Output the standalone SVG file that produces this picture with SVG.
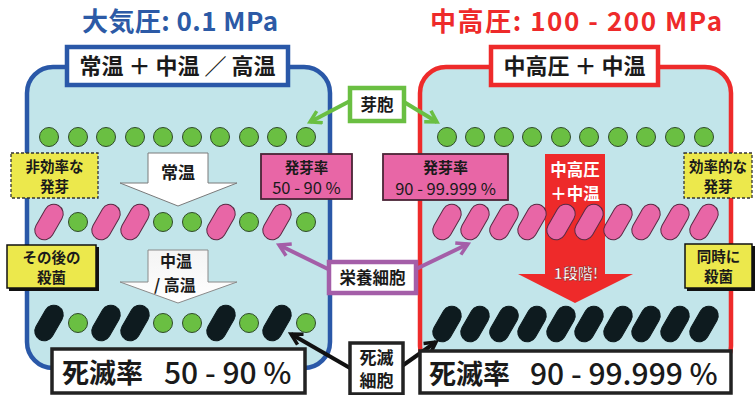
<svg xmlns="http://www.w3.org/2000/svg" width="756" height="395" viewBox="0 0 756 395">
  <defs>
    <style>
      .jp{font-family:"Noto Sans CJK JP","Noto Sans",sans-serif;}
      .b{font-weight:700;}
      .mid{text-anchor:middle;}
      .panel{fill:#c2e5ea;stroke-width:4.5;}
      .tag{fill:#ffffff;stroke-width:4.5;}
      .yel{fill:#ece84c;}
      .pinkbox{fill:#e866a6;stroke:#4a2436;stroke-width:1.8;}
      .res{fill:#ffffff;stroke:#222222;stroke-width:3.5;}
      .conn{fill:none;stroke-width:4;}
    </style>
    <g id="spore"><circle r="9.5" fill="#6abf42" stroke="#2f4a2a" stroke-width="1"/></g>
    <g id="veg"><rect x="-9.5" y="-19" width="19" height="38" rx="9.5" transform="rotate(30)" fill="#e866a6" stroke="#5a2a44" stroke-width="1"/></g>
    <g id="dead"><rect x="-9.5" y="-19" width="19" height="38" rx="9.5" transform="rotate(30)" fill="#0e1b1f" stroke="#0e1b1f" stroke-width="1"/></g>
    <linearGradient id="softWhite" x1="0" y1="0" x2="0" y2="1">
      <stop offset="0" stop-color="#f4f4f4"/>
      <stop offset="1" stop-color="#ffffff"/>
    </linearGradient>
    <marker id="headGreen" viewBox="0 0 16 16" refX="13" refY="8" markerWidth="16" markerHeight="16" markerUnits="userSpaceOnUse" orient="auto">
      <path d="M2,1.5 L13,8 L2,14.5" fill="none" stroke="#6abf42" stroke-width="3.5"/>
    </marker>
    <marker id="headPurple" viewBox="0 0 16 16" refX="13" refY="8" markerWidth="16" markerHeight="16" markerUnits="userSpaceOnUse" orient="auto">
      <path d="M2,1.5 L13,8 L2,14.5" fill="none" stroke="#a45ea8" stroke-width="3.5"/>
    </marker>
    <marker id="headBlack" viewBox="0 0 16 16" refX="13" refY="8" markerWidth="16" markerHeight="16" markerUnits="userSpaceOnUse" orient="auto">
      <path d="M2,2 L13,8 L2,14" fill="none" stroke="#111111" stroke-width="3.5"/>
    </marker>
  </defs>

  <rect width="756" height="395" fill="#ffffff"/>

  <!-- headings -->
  <g id="title-left">
    <text class="jp b mid" x="180" y="31" font-size="26" fill="#2c5aa6" textLength="196" lengthAdjust="spacing">大気圧: 0.1 MPa</text>
  </g>
  <g id="title-right">
    <text class="jp b mid" x="576" y="31" font-size="26" fill="#ee2a2a" textLength="292" lengthAdjust="spacing">中高圧: 100 - 200 MPa</text>
  </g>

  <!-- vessels -->
  <g id="panel-left">
    <rect class="panel" x="27" y="67" width="303" height="301" rx="26" stroke="#2a58a8"/>
  </g>
  <g id="panel-right">
    <rect class="panel" x="420" y="67" width="311" height="305" rx="26" stroke="#ee2b2b"/>
  </g>

  <g id="label-left">
    <rect class="tag" x="67" y="47" width="221" height="38" stroke="#2a58a8"/>
    <text class="jp b mid" x="177.5" y="74" font-size="22" fill="#1a1a1a">常温 ＋ 中温 ／ 高温</text>
  </g>
  <g id="label-right">
    <rect class="tag" x="491" y="47" width="167" height="38" stroke="#ee2b2b"/>
    <text class="jp b mid" x="574.5" y="74" font-size="22" fill="#1a1a1a">中高圧 ＋ 中温</text>
  </g>

  <!-- process arrows -->
  <g id="arrow-ambient">
    <polygon points="148,153 208,153 208,183 237,183 178,206 120,183 148,183" fill="#ffffff" stroke="#7a7a7a" stroke-width="1"/>
    <text class="jp b mid" x="178" y="179" font-size="17" fill="#1a1a1a">常温</text>
  </g>
  <g id="arrow-heat">
    <polygon points="148,250 208,250 208,282 237,282 178,303 120,282 148,282" fill="url(#softWhite)" stroke="#8a8a8a" stroke-width="1"/>
    <text class="jp b" font-size="16" fill="#1a1a1a"><tspan x="160" y="267">中温</tspan><tspan x="154" y="291">/ 高温</tspan></text>
  </g>
  <g id="arrow-pressure">
    <polygon points="545,154 605,154 605,274 633,274 575,303 518,274 545,274" fill="#ee2a2a"/>
    <text class="jp b mid" font-size="16.5" fill="#ffffff"><tspan x="575" y="176">中高圧</tspan><tspan x="575" y="200">＋中温</tspan></text>
    <text class="jp b mid" x="576" y="279" font-size="15" fill="#ffffff" stroke="#8a1010" stroke-width="0.5">1段階!</text>
  </g>

  <!-- spores, top rows -->
  <g id="spores-left">
    <use href="#spore" x="49" y="137"/><use href="#spore" x="78" y="137"/><use href="#spore" x="106" y="137"/><use href="#spore" x="135" y="137"/><use href="#spore" x="163" y="137"/>
    <use href="#spore" x="192" y="137"/><use href="#spore" x="220" y="137"/><use href="#spore" x="249" y="137"/><use href="#spore" x="277" y="137"/><use href="#spore" x="306" y="137"/>
  </g>
  <g id="spores-right">
    <use href="#spore" x="447" y="137"/><use href="#spore" x="475" y="137"/><use href="#spore" x="504" y="137"/><use href="#spore" x="532" y="137"/><use href="#spore" x="561" y="137"/>
    <use href="#spore" x="589" y="137"/><use href="#spore" x="618" y="137"/><use href="#spore" x="646" y="137"/><use href="#spore" x="675" y="137"/><use href="#spore" x="704" y="137"/>
  </g>

  <!-- after germination -->
  <g id="germinated-left">
    <use href="#veg" x="49" y="222"/><use href="#spore" x="78" y="222"/><use href="#veg" x="106" y="222"/><use href="#veg" x="135" y="222"/><use href="#spore" x="163" y="222"/>
    <use href="#spore" x="192" y="222"/><use href="#veg" x="221" y="222"/><use href="#spore" x="249" y="222"/><use href="#veg" x="277" y="222"/><use href="#spore" x="306" y="222"/>
  </g>
  <g id="germinated-right">
    <use href="#veg" x="447" y="222"/><use href="#veg" x="475" y="222"/><use href="#veg" x="504" y="222"/><use href="#veg" x="532" y="222"/><use href="#veg" x="561" y="222"/>
    <use href="#veg" x="589" y="222"/><use href="#veg" x="618" y="222"/><use href="#veg" x="646" y="222"/><use href="#veg" x="675" y="222"/><use href="#veg" x="704" y="222"/>
  </g>

  <!-- after sterilisation -->
  <g id="killed-left">
    <use href="#dead" x="49" y="323"/><use href="#spore" x="78" y="323"/><use href="#dead" x="106" y="323"/><use href="#dead" x="135" y="323"/><use href="#spore" x="163" y="323"/>
    <use href="#spore" x="192" y="323"/><use href="#dead" x="221" y="323"/><use href="#spore" x="249" y="323"/><use href="#dead" x="277" y="323"/><use href="#spore" x="306" y="323"/>
  </g>
  <g id="killed-right">
    <use href="#dead" x="447" y="324"/><use href="#dead" x="475" y="324"/><use href="#dead" x="504" y="324"/><use href="#dead" x="532" y="324"/><use href="#dead" x="561" y="324"/>
    <use href="#dead" x="589" y="324"/><use href="#dead" x="618" y="324"/><use href="#dead" x="646" y="324"/><use href="#dead" x="675" y="324"/><use href="#dead" x="704" y="324"/>
  </g>

  <!-- side notes -->
  <g id="note-inefficient">
    <rect class="yel" x="11" y="153" width="87" height="45" stroke="#333333" stroke-width="1.3" stroke-dasharray="3 2"/>
    <text class="jp b mid" font-size="14.5" fill="#1a1a1a"><tspan x="54.5" y="172">非効率な</tspan><tspan x="54.5" y="192">発芽</tspan></text>
  </g>
  <g id="note-later-kill">
    <rect x="9" y="247" width="90" height="44" fill="#111111"/>
    <rect class="yel" x="7" y="245" width="89" height="43" stroke="#111111" stroke-width="1.5"/>
    <text class="jp b mid" font-size="14.5" fill="#1a1a1a"><tspan x="51.5" y="263">その後の</tspan><tspan x="51.5" y="283">殺菌</tspan></text>
  </g>
  <g id="note-efficient">
    <rect class="yel" x="684" y="153" width="68" height="45" stroke="#333333" stroke-width="1.3" stroke-dasharray="3 2"/>
    <text class="jp b mid" font-size="14.5" fill="#1a1a1a"><tspan x="718" y="172">効率的な</tspan><tspan x="718" y="192">発芽</tspan></text>
  </g>
  <g id="note-same-time">
    <rect x="687" y="246" width="68" height="45" fill="#111111"/>
    <rect class="yel" x="685" y="244" width="67" height="44" stroke="#111111" stroke-width="1.5"/>
    <text class="jp b mid" font-size="14.5" fill="#1a1a1a"><tspan x="718.5" y="262">同時に</tspan><tspan x="718.5" y="282">殺菌</tspan></text>
  </g>

  <g id="rate-left">
    <rect class="pinkbox" x="261" y="154" width="91" height="45"/>
    <text class="jp b mid" x="306.5" y="173" font-size="14.5" fill="#1a1a1a">発芽率</text>
    <text class="jp mid" x="306.5" y="194" font-size="16.5" fill="#1a1a1a">50 - 90 %</text>
  </g>
  <g id="rate-right">
    <rect class="pinkbox" x="383" y="154" width="125" height="46"/>
    <text class="jp b mid" x="445.5" y="173" font-size="15" fill="#1a1a1a">発芽率</text>
    <text class="jp mid" x="445.5" y="195" font-size="16.5" fill="#1a1a1a">90 - 99.999 %</text>
  </g>

  <!-- connectors -->
  <g id="connectors">
    <line class="conn" x1="350" y1="101" x2="310" y2="122" stroke="#6abf42" marker-end="url(#headGreen)"/>
    <line class="conn" x1="404" y1="102" x2="437" y2="122" stroke="#6abf42" marker-end="url(#headGreen)"/>
    <line class="conn" x1="330" y1="270" x2="279" y2="245" stroke="#a45ea8" marker-end="url(#headPurple)"/>
    <line class="conn" x1="414" y1="270" x2="468" y2="244" stroke="#a45ea8" marker-end="url(#headPurple)"/>
    <line class="conn" x1="350" y1="368" x2="291" y2="334" stroke="#111111" stroke-width="3.5" marker-end="url(#headBlack)"/>
    <line class="conn" x1="402" y1="366" x2="436" y2="342" stroke="#111111" stroke-width="3.5" marker-end="url(#headBlack)"/>
  </g>

  <g id="tag-spore">
    <rect class="tag" x="350" y="88" width="54" height="33" stroke="#6abf42"/>
    <text class="jp b mid" x="377" y="111" font-size="16.5" fill="#1a1a1a">芽胞</text>
  </g>
  <g id="tag-vegetative">
    <rect class="tag" x="329" y="262" width="87" height="31" stroke="#a45ea8"/>
    <text class="jp b mid" x="372.5" y="284" font-size="16.5" fill="#1a1a1a">栄養細胞</text>
  </g>
  <g id="tag-dead">
    <rect class="res" x="350" y="343" width="53" height="51"/>
    <text class="jp b mid" font-size="17" fill="#1a1a1a"><tspan x="376.5" y="364">死滅</tspan><tspan x="376.5" y="387">細胞</tspan></text>
  </g>

  <!-- kill rates -->
  <g id="result-left">
    <rect class="res" x="52" y="349" width="253" height="44"/>
    <text class="jp b" x="62" y="383" font-size="27" fill="#1a1a1a">死滅率</text>
    <text class="jp" x="164" y="384" font-size="30" font-weight="500" fill="#1a1a1a">50 - 90 %</text>
  </g>
  <g id="result-right">
    <rect class="res" x="420" y="351" width="311" height="42"/>
    <text class="jp b" x="429" y="384" font-size="27" fill="#1a1a1a">死滅率</text>
    <text class="jp" x="530" y="385" font-size="30" font-weight="500" fill="#1a1a1a">90 - 99.999 %</text>
  </g>
</svg>
